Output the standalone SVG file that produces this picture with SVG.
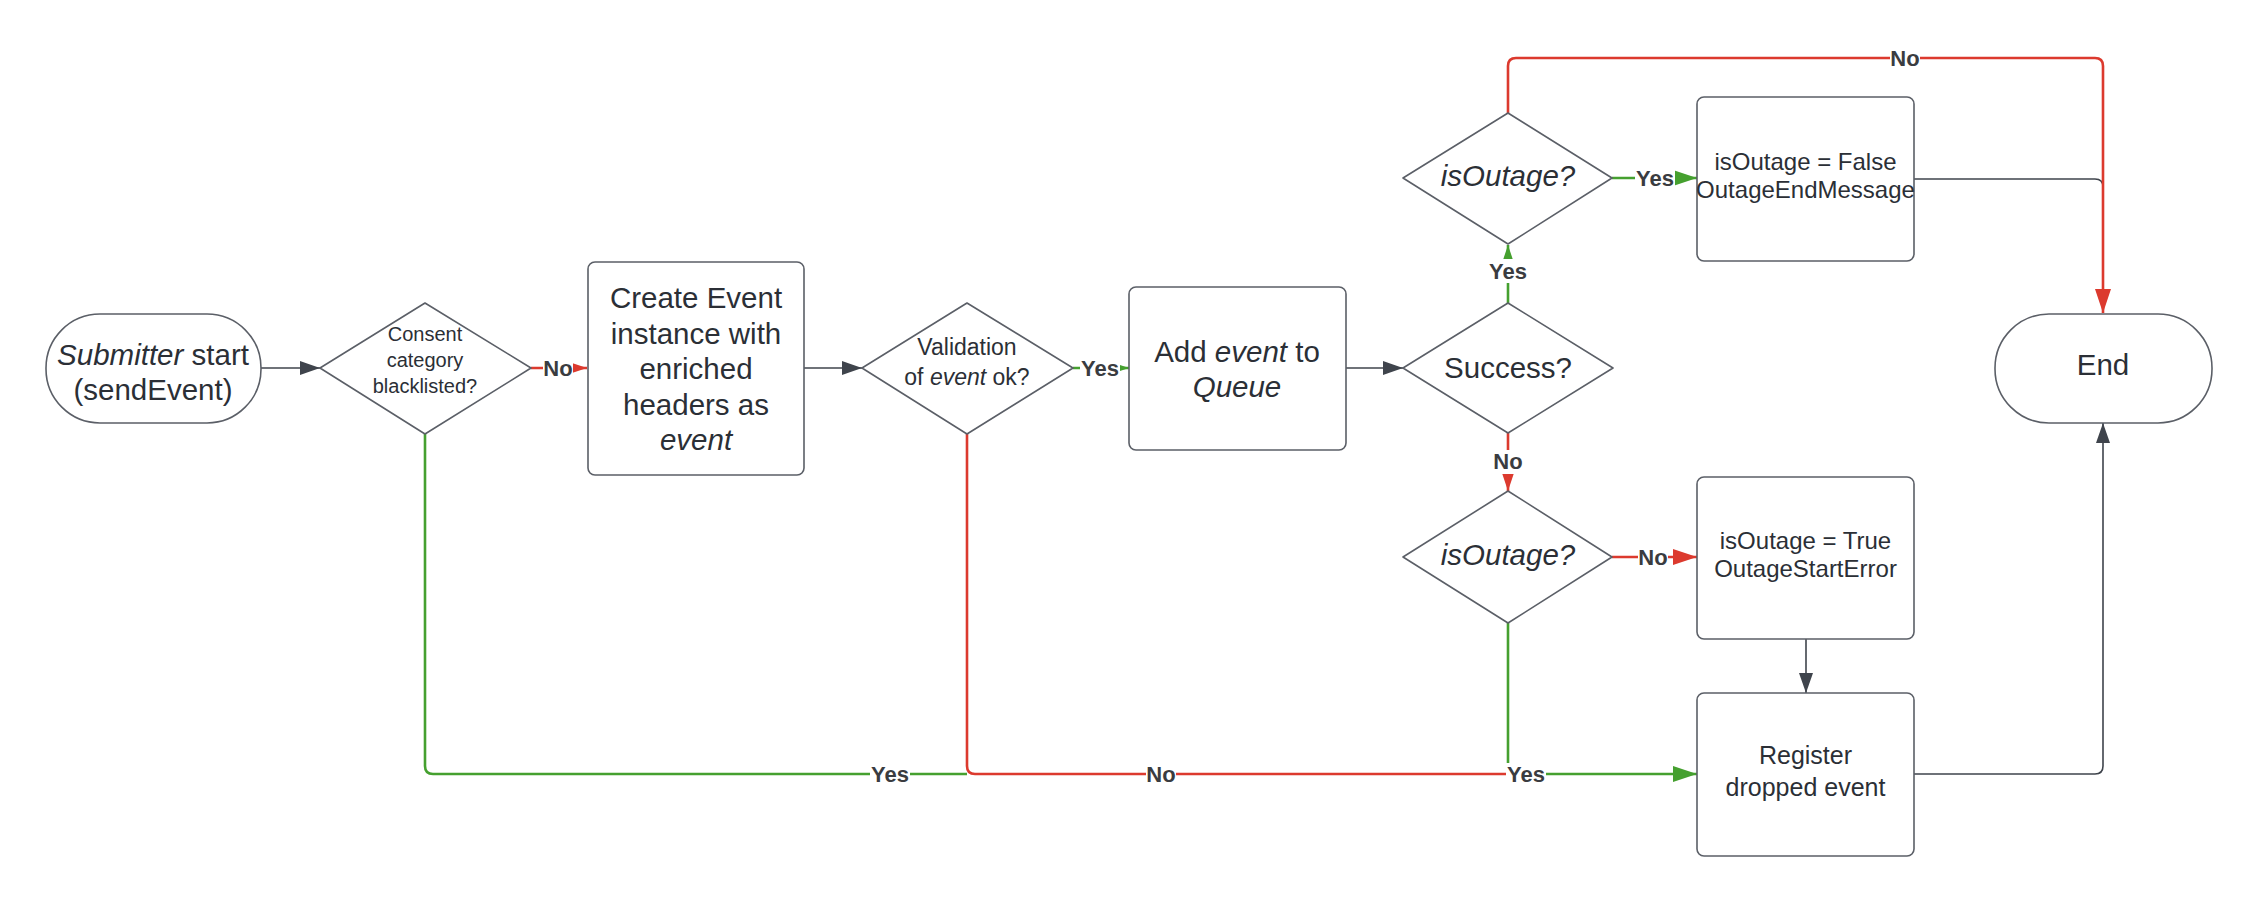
<svg xmlns="http://www.w3.org/2000/svg" width="2260" height="902" viewBox="0 0 2260 902">
<style>
.node{fill:#ffffff;stroke:#5b5f67;stroke-width:1.6;stroke-linejoin:round}
.t{font-family:"Liberation Sans",Arial,sans-serif;fill:#2b2f36;text-anchor:middle}
.big{font-size:29.5px}
.mid{font-size:24px}
.i{font-style:italic}
.dk{fill:none;stroke:#3f444c;stroke-width:1.6}
.rd{fill:none;stroke:#dc3a2e;stroke-width:2.6}
.gr{fill:none;stroke:#45a02f;stroke-width:2.6}
.lbl{font-family:"Liberation Sans",Arial,sans-serif;font-weight:bold;font-size:22px;fill:#3a3c40;text-anchor:middle}
.bg{fill:#ffffff}
</style>
<defs>
<marker id="aDk" markerUnits="userSpaceOnUse" markerWidth="20" markerHeight="14" refX="20" refY="7" orient="auto"><path d="M0,0 L20,7 L0,14 Z" fill="#3f444c"/></marker>
<marker id="aRd" markerUnits="userSpaceOnUse" markerWidth="24" markerHeight="16" refX="24" refY="8" orient="auto"><path d="M0,0 L24,8 L0,16 Z" fill="#dc3a2e"/></marker>
<marker id="aGr" markerUnits="userSpaceOnUse" markerWidth="24" markerHeight="16" refX="24" refY="8" orient="auto"><path d="M0,0 L24,8 L0,16 Z" fill="#45a02f"/></marker>
</defs>
<rect width="2260" height="902" fill="#ffffff"/>

<g id="connectors">
<path class="dk" d="M261,368 H320" marker-end="url(#aDk)"/>
<path class="rd" d="M531,368 H587" marker-end="url(#aRd)"/>
<path class="dk" d="M804,368 H862" marker-end="url(#aDk)"/>
<path class="gr" d="M1073,368 H1129" marker-end="url(#aGr)"/>
<path class="dk" d="M1346,368 H1403" marker-end="url(#aDk)"/>
<path class="gr" d="M1508,303 V245" marker-end="url(#aGr)"/>
<path class="gr" d="M1612,178 H1697" marker-end="url(#aGr)"/>
<path class="dk" d="M1914,179 H2095 Q2103,179 2103,187"/>
<path class="rd" d="M1508,113 V66 Q1508,58 1516,58 H2095 Q2103,58 2103,66 V313" marker-end="url(#aRd)"/>
<path class="rd" d="M1508,433 V491" marker-end="url(#aRd)"/>
<path class="rd" d="M1612,557 H1697" marker-end="url(#aRd)"/>
<path class="dk" d="M1806,639 V693" marker-end="url(#aDk)"/>
<path class="dk" d="M1914,774 H2095 Q2103,774 2103,766 V423" marker-end="url(#aDk)"/>
<path class="gr" d="M425,434 V766 Q425,774 433,774 H967"/>
<path class="rd" d="M967,434 V766 Q967,774 975,774 H1508"/>
<path class="gr" d="M1508,623 V774 H1697" marker-end="url(#aGr)"/>

<rect class="bg" x="543" y="357" width="30" height="22"/>
<text class="lbl" x="558" y="376">No</text>
<rect class="bg" x="1080" y="357" width="40" height="22"/>
<text class="lbl" x="1100" y="376">Yes</text>
<rect class="bg" x="1488" y="259" width="40" height="24"/>
<text class="lbl" x="1508" y="279">Yes</text>
<rect class="bg" x="1635" y="167" width="40" height="22"/>
<text class="lbl" x="1655" y="186">Yes</text>
<rect class="bg" x="1890" y="47" width="30" height="22"/>
<text class="lbl" x="1905" y="66">No</text>
<rect class="bg" x="1493" y="450" width="30" height="24"/>
<text class="lbl" x="1508" y="469">No</text>
<rect class="bg" x="1638" y="546" width="30" height="22"/>
<text class="lbl" x="1653" y="565">No</text>
<rect class="bg" x="870" y="763" width="40" height="22"/>
<text class="lbl" x="890" y="782">Yes</text>
<rect class="bg" x="1146" y="763" width="30" height="22"/>
<text class="lbl" x="1161" y="782">No</text>
<rect class="bg" x="1506" y="763" width="40" height="22"/>
<text class="lbl" x="1526" y="782">Yes</text>
</g>

<g id="start">
<rect class="node" x="46" y="314" width="215" height="109" rx="54" ry="54"/>
<text class="t big" x="153" y="365"><tspan class="i">Submitter</tspan> start</text>
<text class="t big" x="153" y="400">(sendEvent)</text>
</g>

<g id="consent">
<path class="node" d="M425,303 L531,368 L425,434 L320,368 Z"/>
<text class="t" style="font-size:20px" x="425" y="341">Consent</text>
<text class="t" style="font-size:20px" x="425" y="367">category</text>
<text class="t" style="font-size:20px" x="425" y="393">blacklisted?</text>
</g>

<g id="create">
<rect class="node" x="588" y="262" width="216" height="213" rx="7"/>
<text class="t big" x="696" y="308">Create Event</text>
<text class="t big" x="696" y="343.5">instance with</text>
<text class="t big" x="696" y="379">enriched</text>
<text class="t big" x="696" y="414.5">headers as</text>
<text class="t big i" x="696" y="450">event</text>
</g>

<g id="validation">
<path class="node" d="M967,303 L1073,368 L967,434 L862,368 Z"/>
<text class="t" style="font-size:23px" x="967" y="355">Validation</text>
<text class="t" style="font-size:23px" x="967" y="385">of <tspan class="i">event</tspan> ok?</text>
</g>

<g id="addqueue">
<rect class="node" x="1129" y="287" width="217" height="163" rx="7"/>
<text class="t big" x="1237" y="362">Add <tspan class="i">event</tspan> to</text>
<text class="t big i" x="1237" y="397">Queue</text>
</g>

<g id="success">
<path class="node" d="M1508,303 L1613,368 L1508,433 L1403,368 Z"/>
<text class="t big" x="1508" y="378">Success?</text>
</g>

<g id="outage-top">
<path class="node" d="M1508,113 L1612,178 L1508,244 L1403,178 Z"/>
<text class="t big i" x="1508" y="186">isOutage?</text>
</g>

<g id="outage-end">
<rect class="node" x="1697" y="97" width="217" height="164" rx="7"/>
<text class="t mid" x="1805.5" y="170">isOutage = False</text>
<text class="t mid" x="1805.5" y="198">OutageEndMessage</text>
</g>

<g id="end">
<rect class="node" x="1995" y="314" width="217" height="109" rx="54" ry="54"/>
<text class="t big" x="2103" y="375">End</text>
</g>

<g id="outage-bottom">
<path class="node" d="M1508,491 L1612,557 L1508,623 L1403,557 Z"/>
<text class="t big i" x="1508" y="565">isOutage?</text>
</g>

<g id="outage-start">
<rect class="node" x="1697" y="477" width="217" height="162" rx="7"/>
<text class="t mid" x="1805.5" y="549">isOutage = True</text>
<text class="t mid" x="1805.5" y="577">OutageStartError</text>
</g>

<g id="register">
<rect class="node" x="1697" y="693" width="217" height="163" rx="7"/>
<text class="t" style="font-size:25px" x="1805.5" y="764">Register</text>
<text class="t" style="font-size:25px" x="1805.5" y="796">dropped event</text>
</g>
</svg>
